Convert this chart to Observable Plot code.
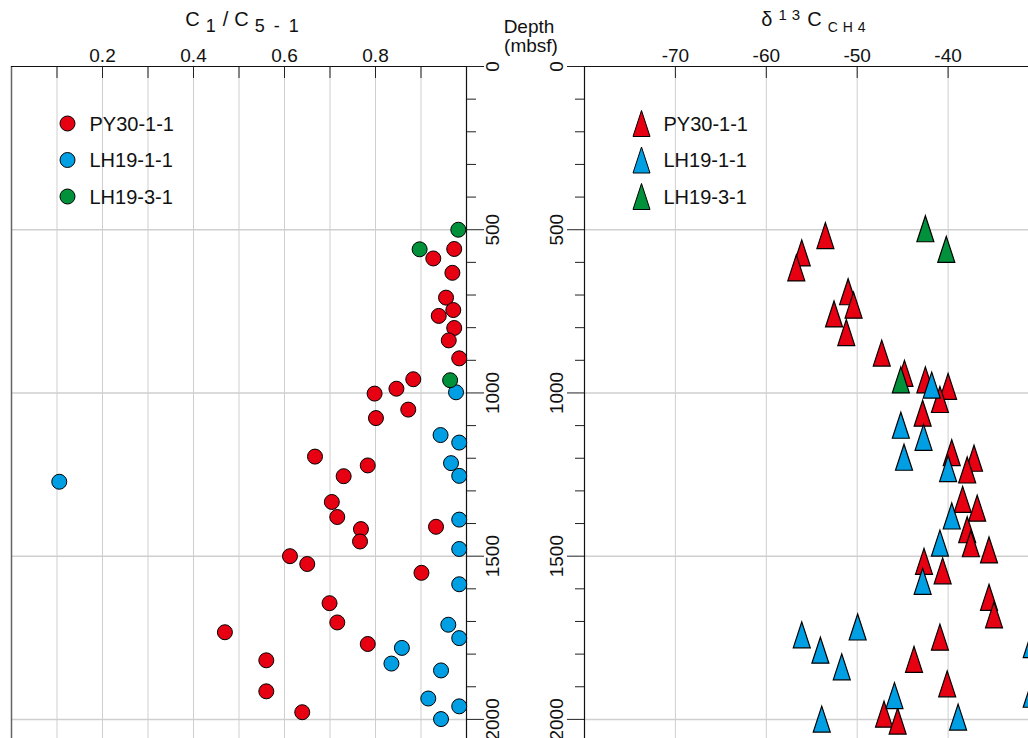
<!DOCTYPE html>
<html><head><meta charset="utf-8">
<script src="https://cdn.jsdelivr.net/npm/d3@7"></script>
<script src="https://cdn.jsdelivr.net/npm/@observablehq/plot@0.6"></script>
<style>
body{margin:0;background:#fff;}
#wrap{position:relative;width:1028px;height:738px;overflow:hidden;font-family:"Liberation Sans",Arial,sans-serif;color:#111;}
.abs{position:absolute;white-space:nowrap;}
#left,#right{position:absolute;top:0;}
#left{left:0;} #right{left:520px;}
</style></head><body><div id="wrap"><div id="left"></div><div id="right"></div></div>
<script>
// ---- categories / colours ----
const series = ["PY30-1-1", "LH19-1-1", "LH19-3-1"];
const colors = ["#E60012", "#009FE3", "#00913A"];

// ---- ticks ----
const ratioGrid = [0.1, 0.2, 0.3, 0.4, 0.5, 0.6, 0.7, 0.8, 0.9];
const ratioLabels = [0.2, 0.4, 0.6, 0.8];
const isoTicks = [-70, -60, -50, -40];
const depthMajor = [0, 500, 1000, 1500, 2000];
const depthMinor = [100, 200, 300, 400, 600, 700, 800, 900, 1100, 1200, 1300, 1400, 1600, 1700, 1800, 1900];
const depthGrid = [500, 1000, 1500, 2000];

// ---- C1/C5-1 vs depth (value, depth m) ----
const ratioPY30 = [[0.973,559],[0.927,588],[0.969,632],[0.955,708],[0.971,746],[0.939,764],[0.973,801],[0.961,839],[0.984,894],[0.883,958],[0.846,987],[0.798,1002],[0.872,1051],[0.801,1077],[0.667,1195],[0.783,1222],[0.730,1255],[0.704,1334],[0.716,1380],[0.933,1410],[0.768,1417],[0.766,1455],[0.612,1500],[0.650,1524],[0.901,1551],[0.699,1644],[0.716,1703],[0.469,1733],[0.783,1769],[0.560,1819],[0.560,1914],[0.639,1978]];
const ratioLH191 = [[0.977,998],[0.943,1129],[0.984,1152],[0.966,1215],[0.984,1254],[0.105,1272],[0.984,1388],[0.984,1478],[0.984,1586],[0.960,1710],[0.984,1751],[0.858,1781],[0.835,1829],[0.944,1850],[0.916,1936],[0.984,1960],[0.944,1999]];
const ratioLH193 = [[0.982,500],[0.897,560],[0.964,961]];

// ---- d13C-CH4 vs depth (value, depth m) ----
const isoPY30 = [[-53.5,518],[-56.1,571],[-56.7,617],[-51.0,690],[-50.4,731],[-52.55,758],[-51.2,815],[-47.3,878],[-44.8,940],[-42.5,960],[-40.0,980],[-40.9,1020],[-42.8,1062],[-39.6,1183],[-37.15,1200],[-37.9,1236],[-38.4,1326],[-36.8,1353],[-37.9,1419],[-37.5,1462],[-35.5,1481],[-42.65,1516],[-40.6,1545],[-35.5,1626],[-34.95,1680],[-40.9,1748],[-43.75,1816],[-40.1,1891],[-47.05,1984],[-45.55,2005]];
const isoLH191 = [[-41.8,976],[-45.2,1099],[-42.7,1136],[-44.85,1197],[-40.0,1232],[-39.6,1377],[-40.9,1460],[-42.8,1577],[-49.95,1717],[-56.1,1741],[-30.8,1771],[-54.05,1788],[-51.7,1839],[-30.8,1923],[-45.9,1927],[-38.9,1993],[-53.9,1999]];
const isoLH193 = [[-42.5,497],[-40.2,560],[-45.2,960]];

const toRows = (lists) => series.flatMap((s, i) => lists[i].map(([v, d]) => ({series: s, v, d})));
const ratioRows = toRows([ratioPY30, ratioLH191, ratioLH193]);
const isoRows = toRows([isoPY30, isoLH191, isoLH193]);

const H = 738, mTop = 66, frameH = H - mTop;
const depthDomain = [0, 2058.5];
const gridColor = "#cfcfcf";
const font = {fontFamily: "'Liberation Sans', Arial, sans-serif", fontSize: "19px", background: "white", color: "#111"};

const tri = {draw(ctx) { ctx.moveTo(0, -13); ctx.lineTo(8.5, 13); ctx.lineTo(-8.5, 13); ctx.closePath(); }};

function legend(symbolOpts, dxSym, dxText) {
  const marks = [];
  series.forEach((s, i) => {
    const dy = 57 + i * 36.5;
    marks.push(Plot.dot([s], {frameAnchor: "top-left", dx: dxSym, dy, fill: colors[i], stroke: "black", strokeWidth: 1, ...symbolOpts}));
    marks.push(Plot.text([s], {frameAnchor: "top-left", dx: dxText, dy: dy + 1, text: d => d, textAnchor: "start", lineAnchor: "middle", fontSize: 20, fill: "#111"}));
  });
  return marks;
}

const leftPlot = Plot.plot({
  width: 520, height: H,
  marginLeft: 11, marginRight: 54, marginTop: mTop, marginBottom: 0,
  style: font,
  x: {domain: [0, 1]},
  y: {domain: depthDomain, reverse: true},
  color: {domain: series, range: colors},
  marks: [
    Plot.gridX(ratioGrid, {stroke: gridColor, strokeOpacity: 1}),
    Plot.gridY(depthGrid, {stroke: gridColor, strokeOpacity: 1, strokeWidth: 1.5}),
    Plot.tickX(ratioGrid, {x: d => d, insetBottom: frameH - 12, stroke: "#222"}),
    Plot.ruleX([0], {stroke: "#666", strokeWidth: 1.5}),
    Plot.ruleX([1], {stroke: "#111", strokeWidth: 1.2}),
    Plot.ruleY([0], {stroke: "#111", strokeWidth: 1.2}),
    Plot.axisX({anchor: "top", ticks: ratioLabels, tickSize: 0, tickPadding: 5, tickFormat: d3.format(".1f"), label: null, fontSize: 19}),
    Plot.axisY({anchor: "right", ticks: depthMinor, tickSize: 9, tickFormat: () => "", label: null, stroke: "#222"}),
    Plot.axisY({anchor: "right", ticks: depthMajor, tickSize: 17, tickFormat: () => "", label: null, stroke: "#222"}),
    Plot.text(depthMajor, {y: d => d, frameAnchor: "right", dx: 26, rotate: -90, text: d => String(d), textAnchor: "middle", lineAnchor: "middle", fontSize: 19, fill: "#111"}),
    Plot.dot(ratioRows, {x: "v", y: "d", r: 7.5, fill: "series", stroke: "black", strokeWidth: 1}),
    ...legend({r: 7.5}, 56, 78)
  ]
});

const rightPlot = Plot.plot({
  width: 508, height: H,
  marginLeft: 64, marginRight: 0, marginTop: mTop, marginBottom: 0,
  style: font,
  x: {domain: [-80, -80 + 444 / 9.09]},
  y: {domain: depthDomain, reverse: true},
  color: {domain: series, range: colors},
  marks: [
    Plot.gridX(isoTicks, {stroke: gridColor, strokeOpacity: 1}),
    Plot.gridY(depthGrid, {stroke: gridColor, strokeOpacity: 1, strokeWidth: 1.5}),
    Plot.tickX(isoTicks, {x: d => d, insetBottom: frameH - 12, stroke: "#222"}),
    Plot.ruleX([-80], {stroke: "#111", strokeWidth: 1.2}),
    Plot.ruleY([0], {stroke: "#111", strokeWidth: 1.2}),
    Plot.axisX({anchor: "top", ticks: isoTicks, tickSize: 0, tickPadding: 5, tickFormat: d => String(d), label: null, fontSize: 19}),
    Plot.axisY({anchor: "left", ticks: depthMinor, tickSize: 9, tickFormat: () => "", label: null, stroke: "#222"}),
    Plot.axisY({anchor: "left", ticks: depthMajor, tickSize: 17, tickFormat: () => "", label: null, stroke: "#222"}),
    Plot.text(depthMajor, {y: d => d, frameAnchor: "left", dx: -28, rotate: -90, text: d => String(d), textAnchor: "middle", lineAnchor: "middle", fontSize: 19, fill: "#111"}),
    Plot.dot(isoRows, {x: "v", y: "d", symbol: tri, fill: "series", stroke: "black", strokeWidth: 1.2}),
    ...legend({symbol: tri}, 57, 79)
  ]
});

document.getElementById("left").append(leftPlot);
document.getElementById("right").append(rightPlot);

const wrap = document.getElementById("wrap");
function addDiv(html, style) {
  const d = document.createElement("div");
  d.className = "abs";
  d.style.cssText = style;
  d.innerHTML = html;
  wrap.append(d);
}
addDiv('C<span style="font-size:18px;position:relative;top:6px;margin-left:6px">1</span><span style="margin:0 6px 0 7px">/</span>C<span style="font-size:18px;position:relative;top:6px;margin-left:6px;letter-spacing:2px">5 - 1</span>',
  "left:243px;top:7px;transform:translateX(-50%);font-size:20px;line-height:24px;");
addDiv('δ<span style="font-size:15px;position:relative;top:-6px;margin:0 2px 0 6px;letter-spacing:5px">13</span>C<span style="font-size:14px;position:relative;top:6px;margin-left:6px;letter-spacing:5px">CH4</span>',
  "left:816px;top:7px;transform:translateX(-50%);font-size:20px;line-height:24px;");
addDiv('Depth', "left:529px;top:18px;transform:translateX(-50%);font-size:19px;line-height:18px;");
addDiv('(mbsf)', "left:531px;top:37px;transform:translateX(-50%);font-size:19px;line-height:18px;");
</script></body></html>
